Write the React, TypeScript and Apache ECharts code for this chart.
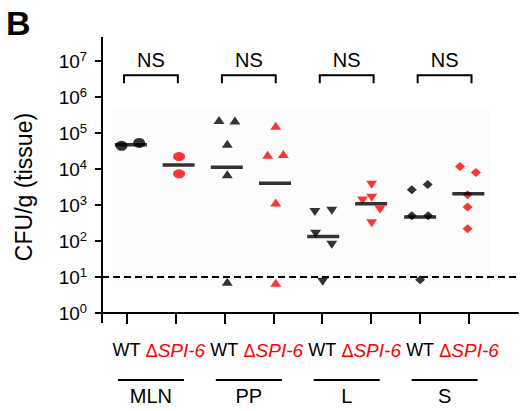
import { useEffect, useRef } from 'react';
import * as echarts from 'echarts';

const FONT = '"Liberation Sans", Arial, Helvetica, sans-serif';
const RED = '#ff0000';

const groups = ['MLN', 'PP', 'L', 'S'];
const strains = ['WT', 'ΔSPI-6'];
const significance = ['NS', 'NS', 'NS', 'NS'];
const detectionLimit = 10;
const bracketLevel = 4e6;

// CFU/g per animal (slot order: MLN WT, MLN ΔSPI-6, PP WT, ...)
const mlnWT = [43900, 53100];
const mlnWTJitter = [-0.2, 0.52];
const mlnSPI = [22100, 7330];
const mlnSPIJitter = [0.15, 0.15];
const ppWT = [231000, 221000, 49900, 7190, 7.4];
const ppWTJitter = [-0.22, 0.43, 0.12, 0.12, 0.12];
const ppSPI = [160000, 24700, 26300, 1170, 6.9];
const ppSPIJitter = [0.1, -0.23, 0.41, 0.1, 0.1];
const lWT = [634, 690, 159, 78.5, 7.4];
const lWTJitter = [-0.3, 0.39, -0.27, 0.39, 0.02];
const lSPI = [3630, 1330, 1580, 735, 310];
const lSPIJitter = [0.02, -0.35, 0.02, 0.36, 0.02];
const sWT = [2640, 3700, 500, 500, 8.4];
const sWTJitter = [-0.34, 0.31, -0.34, 0.33, 0];
const sSPI = [11700, 7960, 1920, 873, 218];
const sSPIJitter = [-0.37, 0.28, -0.06, -0.06, -0.06];

// group mean bars (geometric means)
const geoMeans = [46800, 13000, 11200, 4050, 133, 1080, 461, 2040];
const meanShift = [0.18, 0.13, 0.1, 0.07, 0.04, 0, 0, -0.03];

const slotSets = [
  { values: mlnWT, jitter: mlnWTJitter, symbol: 'circle', rotate: 0, color: '#000', size: [12, 10] },
  { values: mlnSPI, jitter: mlnSPIJitter, symbol: 'circle', rotate: 0, color: RED, size: [12, 9] },
  { values: ppWT, jitter: ppWTJitter, symbol: 'triangle', rotate: 0, color: '#000', size: [11, 8] },
  { values: ppSPI, jitter: ppSPIJitter, symbol: 'triangle', rotate: 0, color: RED, size: [11, 8] },
  { values: lWT, jitter: lWTJitter, symbol: 'triangle', rotate: 180, color: '#000', size: [11, 8] },
  { values: lSPI, jitter: lSPIJitter, symbol: 'triangle', rotate: 180, color: RED, size: [11, 8] },
  { values: sWT, jitter: sWTJitter, symbol: 'diamond', rotate: 0, color: '#000', size: [10, 9] },
  { values: sSPI, jitter: sSPIJitter, symbol: 'diamond', rotate: 0, color: RED, size: [10, 9] },
];

const slotX = (k: number) => 2 * k + 1;

const strainCats = Array.from({ length: 18 }, (_, i) =>
  i % 2 === 1 && i < 16 ? strains[((i - 1) / 2) % 2] : ''
);
const groupCats = Array.from({ length: 18 }, (_, i) =>
  i % 4 === 2 && i < 16 ? groups[(i - 2) / 4] : ''
);

export default function App() {
  const ref = useRef<HTMLDivElement>(null);
  useEffect(() => {
    if (!ref.current) return;
    const chart = echarts.init(ref.current, undefined, { renderer: 'svg' });

    const pointSeries = slotSets.map((s, k) => ({
      type: 'scatter',
      xAxisIndex: 0,
      yAxisIndex: 0,
      symbol: s.symbol,
      symbolRotate: s.rotate,
      symbolSize: s.size,
      itemStyle: { color: s.color },
      z: 2,
      silent: true,
      data: s.values.map((v, i) => [slotX(k) + s.jitter[i], v]),
    }));

    const option: any = {
      animation: false,
      textStyle: { fontFamily: FONT, color: '#000' },
      grid: { left: 102, right: 12, top: 61, bottom: 98, containLabel: false },
      xAxis: [
        { type: 'value', min: 0, max: 17, show: false },
        {
          type: 'category',
          data: strainCats,
          boundaryGap: false,
          position: 'bottom',
          axisLine: { show: true, lineStyle: { color: '#000', width: 2 } },
          axisTick: {
            show: true,
            length: 11,
            interval: (i: number) => i % 2 === 1 && i < 16,
            lineStyle: { color: '#000', width: 2 },
          },
          axisLabel: {
            interval: (i: number) => i % 2 === 1 && i < 16,
            margin: 28,
            formatter: (v: string) => (v === 'WT' ? '{wt|WT}' : v ? `{d|${v.slice(0, 1)}}{sp|${v.slice(1)}}` : ''),
            rich: {
              wt: { fontSize: 18, color: '#000', fontFamily: FONT },
              d: { fontSize: 18, color: RED, fontFamily: FONT },
              sp: { fontSize: 19, color: RED, fontStyle: 'italic', fontFamily: FONT },
            },
          },
          splitLine: { show: false },
        },
        {
          type: 'category',
          data: groupCats,
          boundaryGap: false,
          position: 'bottom',
          axisLine: { show: false },
          axisTick: { show: false },
          axisLabel: {
            interval: (i: number) => i % 4 === 2 && i < 16,
            margin: 66,
            formatter: (v: string) => (v ? `{line|}\n{name|${v}}` : ''),
            rich: {
              line: { width: 66, height: 2, lineHeight: 2, backgroundColor: '#000' },
              name: { fontSize: 20, lineHeight: 30, color: '#000', fontFamily: FONT },
            },
          },
          splitLine: { show: false },
        },
      ],
      yAxis: {
        type: 'log',
        logBase: 10,
        min: 1,
        max: 1e7,
        axisLine: { show: true, lineStyle: { color: '#000', width: 2 } },
        axisTick: { show: true, length: 7, lineStyle: { color: '#000', width: 2 } },
        axisLabel: {
          margin: 15,
          formatter: (v: number) => `{b|10}{s|${Math.round(Math.log10(v))}}`,
          rich: {
            b: { fontSize: 19, color: '#000', fontFamily: FONT },
            s: { fontSize: 13, color: '#000', fontFamily: FONT, padding: [0, 0, 9, 0] },
          },
        },
        splitLine: { show: false },
        name: 'CFU/g (tissue)',
        nameLocation: 'middle',
        nameGap: 67,
        nameTextStyle: { fontSize: 23, color: '#000', fontFamily: FONT },
      },
      graphic: [
        {
          type: 'rect',
          z: -10,
          shape: { x: 113, y: 108, width: 377, height: 180 },
          style: { fill: '#fcfcfc' },
          silent: true,
        },
        {
          type: 'line',
          shape: { x1: 102, y1: 37, x2: 102, y2: 62 },
          style: { stroke: '#000', lineWidth: 2 },
          silent: true,
        },
        {
          type: 'line',
          shape: { x1: 102, y1: 312, x2: 102, y2: 323 },
          style: { stroke: '#000', lineWidth: 2 },
          silent: true,
        },
        {
          type: 'text',
          x: 6,
          y: 23,
          style: {
            text: 'B',
            fontSize: 34,
            fontWeight: 'bold',
            fontFamily: FONT,
            fill: '#000',
            align: 'left',
            verticalAlign: 'middle',
          },
          silent: true,
        },
      ],
      series: [
        ...pointSeries,
        {
          type: 'scatter',
          xAxisIndex: 0,
          yAxisIndex: 0,
          symbol: 'rect',
          symbolSize: [32, 3.5],
          itemStyle: { color: '#000' },
          z: 5,
          silent: true,
          data: geoMeans.map((v, k) => [slotX(k) + meanShift[k], v]),
          markLine: {
            silent: true,
            symbol: ['none', 'none'],
            label: { show: false },
            lineStyle: { type: [7, 4], width: 2, color: '#000' },
            data: [{ yAxis: detectionLimit }],
          },
        },
        {
          type: 'custom',
          xAxisIndex: 0,
          yAxisIndex: 0,
          clip: false,
          silent: true,
          z: 5,
          data: groups.map((_, g) => [4 * g + 2, bracketLevel]),
          renderItem: (params: any, api: any) => {
            const cx = api.value(0);
            const lv = api.value(1);
            const a = api.coord([cx - 1.1, lv]);
            const b = api.coord([cx + 1.1, lv]);
            const t = api.coord([cx, 1e7]);
            return {
              type: 'group',
              children: [
                {
                  type: 'polyline',
                  shape: {
                    points: [
                      [a[0], a[1] + 8],
                      [a[0], a[1]],
                      [b[0], b[1]],
                      [b[0], b[1] + 8],
                    ],
                  },
                  style: { stroke: '#000', lineWidth: 2, fill: null },
                },
                {
                  type: 'text',
                  x: t[0],
                  y: t[1] - 1,
                  style: {
                    text: significance[params.dataIndex],
                    align: 'center',
                    verticalAlign: 'middle',
                    fontSize: 20,
                    fontFamily: FONT,
                    fill: '#000',
                  },
                },
              ],
            };
          },
        },
      ],
    };

    chart.setOption(option);
    return () => chart.dispose();
  }, []);

  return (
    <div
      ref={ref}
      style={{ position: 'absolute', left: 0, top: 0, width: 530, height: 411, background: '#fff' }}
    />
  );
}
